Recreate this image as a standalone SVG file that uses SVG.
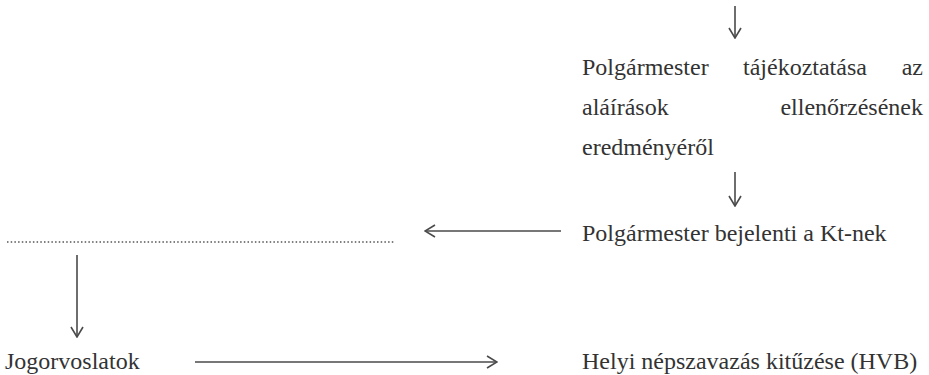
<svg xmlns="http://www.w3.org/2000/svg" width="929" height="375" viewBox="0 0 929 375">
  <style>
    .tx { font-size: 24px; fill: #333; }
    .conn { stroke: #4a4a4a; stroke-width: 1.6; fill: none; }
    .dots { stroke: #555; stroke-width: 1.5; stroke-dasharray: 1.5 2.2; fill: none; }
  </style>
  <defs>
    <marker id="head" viewBox="0 0 12 14" refX="11" refY="7" markerWidth="12" markerHeight="14" markerUnits="userSpaceOnUse" orient="auto">
      <path d="M1,1 L11,7 L1,13" fill="none" stroke="#4a4a4a" stroke-width="1.6"/>
    </marker>
  </defs>
  <rect width="929" height="375" fill="#fff"/>

  <g id="connectors">
    <line class="conn" x1="735" y1="6" x2="735" y2="38" marker-end="url(#head)"/>
    <line class="conn" x1="735" y1="172" x2="735" y2="206" marker-end="url(#head)"/>
    <line class="conn" x1="561" y1="231" x2="425" y2="231" marker-end="url(#head)"/>
    <line class="conn" x1="77" y1="255" x2="77" y2="337" marker-end="url(#head)"/>
    <line class="conn" x1="195" y1="362" x2="497" y2="362" marker-end="url(#head)"/>
  </g>

  <g font-family="'Liberation Serif', serif">
    <g id="node-tajekoztatas">
      <text class="tx" y="75"><tspan x="582">Polgármester</tspan><tspan x="743">tájékoztatása</tspan><tspan x="923" text-anchor="end">az</tspan></text>
      <text class="tx" y="115"><tspan x="582">aláírások</tspan><tspan x="923" text-anchor="end">ellenőrzésének</tspan></text>
      <text class="tx" x="582" y="155">eredményéről</text>
    </g>

    <g id="node-bejelenti">
      <text class="tx" x="582" y="241">Polgármester bejelenti a Kt-nek</text>
    </g>

    <g id="node-dotted">
      <line class="dots" x1="7" y1="242" x2="395" y2="242"/>
    </g>

    <g id="node-jogorvoslatok">
      <text class="tx" x="5" y="369">Jogorvoslatok</text>
    </g>

    <g id="node-kituzes">
      <text class="tx" x="582" y="369">Helyi népszavazás kitűzése (HVB)</text>
    </g>
  </g>
</svg>
